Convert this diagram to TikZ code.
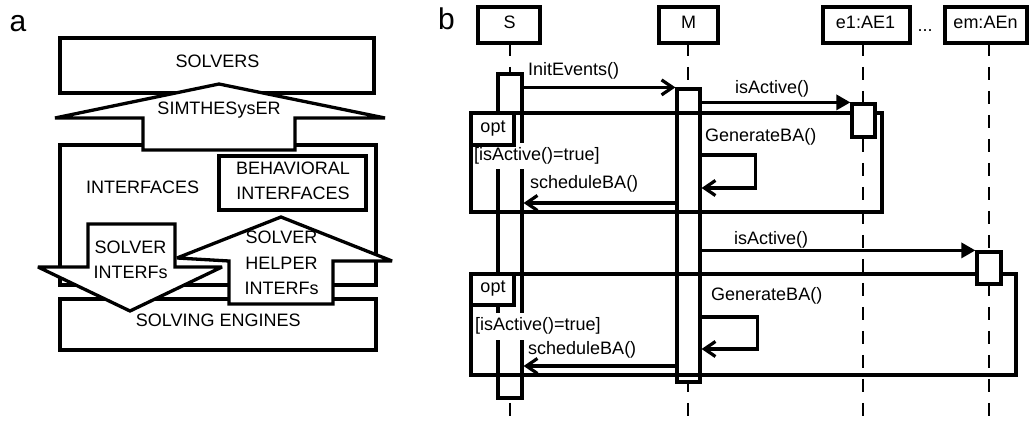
\documentclass[tikz,border=0pt]{standalone}
\usepackage{fontspec}
\setmainfont{Liberation Sans}
\usetikzlibrary{arrows.meta}
\begin{document}
\begin{tikzpicture}[x=1pt,y=-1pt,
  every node/.style={font=\fontsize{18}{21}\selectfont},
  abox/.style={draw, line width=3.3pt, fill=white, inner sep=0pt},
  shapeline/.style={draw, line width=3.3pt, fill=white, line join=miter, miter limit=3},
  txt/.style={inner sep=0pt, anchor=base},
  ltxt/.style={inner sep=0pt, anchor=base west},
  panel/.style={inner sep=0pt, anchor=base, font=\fontsize{30}{34}\selectfont},
  lifeline/.style={line width=1.9pt, dash pattern=on 13pt off 11pt},
  bar/.style={draw, line width=3.2pt, fill=white, inner sep=0pt},
  frame/.style={draw, line width=3.2pt, inner sep=0pt},
  tab/.style={draw, line width=3.2pt, fill=white, inner sep=0pt},
  guard/.style={fill=white, inner xsep=1pt, inner ysep=5pt, anchor=base west},
  msg/.style={line width=3.2pt, -{Straight Barb[length=11pt,width=15pt]}},
  call/.style={line width=3.2pt, -{Triangle[length=14pt,width=15pt]}},
]
\useasboundingbox[fill=white] (0,0) rectangle (1029,427);

% ---------------- panel a ----------------
\node[panel] (la) at (18,31.5) {a};
\node[abox, minimum width=314pt, minimum height=55pt] (solvers) at (217,65.5) {};
\node[abox, minimum width=316pt, minimum height=140pt] (interfaces) at (218,215) {};
\node[abox, minimum width=316pt, minimum height=51pt] (engines) at (218,324.5) {};
\node[abox, minimum width=147pt, minimum height=54pt] (behav) at (292.5,183) {};
\draw[shapeline] (55,118) -- (219,84) -- (385,118) -- (295,118) -- (295,150) -- (143,150) -- (143,118) -- cycle;
\draw[shapeline] (88,224) -- (175,224) -- (175,267) -- (222,267) -- (130,311) -- (38,267) -- (88,267) -- cycle;
\draw[shapeline] (281,217) -- (392,261) -- (333,261) -- (333,304) -- (229,304) -- (229,261) -- (177,258) -- cycle;
\node[txt] (tsolvers) at (217.5,67.5) {SOLVERS};
\node[txt] (tsim) at (219,114.5) {SIMTHESysER};
\node[txt] (tint) at (142.7,194) {INTERFACES};
\node[txt] (tbeh1) at (293,175) {BEHAVIORAL};
\node[txt] (tbeh2) at (293,200) {INTERFACES};
\node[txt] (tsi1) at (130.5,253.3) {SOLVER};
\node[txt] (tsi2) at (130.5,278.3) {INTERFs};
\node[txt] (tsh1) at (281.5,243.5) {SOLVER};
\node[txt] (tsh2) at (281.5,269.5) {HELPER};
\node[txt] (tsh3) at (281.5,295) {INTERFs};
\node[txt] (teng) at (218.3,326.7) {SOLVING ENGINES};

% ---------------- panel b ----------------
\node[panel] (lb) at (446.5,30) {b};
\coordinate (bot) at (0,427);
\coordinate (Stop) at (510,43);
\coordinate (Mtop) at (688,43);
\coordinate (E1top) at (863,43);
\coordinate (Emtop) at (989,43);
\draw[lifeline] (Stop) -- (Stop |- bot);
\draw[lifeline] (Mtop) -- (Mtop |- bot);
\draw[lifeline] (E1top) -- (E1top |- bot);
\draw[lifeline] (Emtop) -- (Emtop |- bot);

\node[abox, minimum width=62pt, minimum height=36pt] (S) at (509,25) {};
\node[abox, minimum width=59pt, minimum height=36pt] (M) at (688.5,25) {};
\node[abox, minimum width=87pt, minimum height=36pt] (E1) at (866.5,25) {};
\node[abox, minimum width=82pt, minimum height=36pt] (Em) at (986,25) {};
\node[txt] (tS) at (509.5,28.3) {S};
\node[txt] (tM) at (688.5,28.3) {M};
\node[txt] (tE1) at (865.5,28.3) {e1:AE1};
\node[txt] (tEm) at (985.5,28.3) {em:AEn};
\node[txt] (dots) at (925,32) {...};

\node[bar, minimum width=24pt, minimum height=324pt] (Sbar) at (510,236) {};
\node[bar, minimum width=23pt, minimum height=293pt] (Mbar) at (688.5,235.5) {};

\node[guard] (g1) at (473,160.7) {[isActive()=true]};
\node[guard] (g2) at (474,331) {[isActive()=true]};

\node[frame, minimum width=411pt, minimum height=99pt] (opt1) at (676.5,162.5) {};
\node[frame, minimum width=545pt, minimum height=101pt] (opt2) at (743.5,324.5) {};
\node[tab, minimum width=43pt, minimum height=32pt] (tab1) at (492.5,129) {};
\node[tab, minimum width=43pt, minimum height=31pt] (tab2) at (492.5,289.5) {};
\node[txt] (topt1) at (493,132.7) {opt};
\node[txt] (topt2) at (493,292.7) {opt};

\node[bar, minimum width=23pt, minimum height=33pt] (E1bar) at (863.5,120.5) {};
\node[bar, minimum width=24pt, minimum height=32pt] (Embar) at (989,268) {};

% messages
\draw[msg] (Sbar.east |- Mbar.north west) -- (Mbar.north west);
\node[ltxt] (tinit) at (528,76) {InitEvents()};

\draw[call] (Mbar.east |- E1bar.north west) -- (E1bar.north west);
\node[txt] (tia1) at (772,93.3) {isActive()};

\coordinate (l1a) at (0,155);
\coordinate (l1b) at (0,188);
\draw[msg] (Mbar.east |- l1a) -- ++(54,0) |- (Mbar.east |- l1b);
\node[ltxt] (tgen1) at (705,141.7) {GenerateBA()};

\coordinate (s1) at (0,203);
\draw[msg] (Mbar.west |- s1) -- (Sbar.east |- s1);
\node[ltxt] (tsch1) at (530,189) {scheduleBA()};

\draw[call] (Mbar.east |- Embar.north west) -- (Embar.north west);
\node[txt] (tia2) at (771,245) {isActive()};

\coordinate (l2a) at (0,317);
\coordinate (l2b) at (0,349);
\draw[msg] (Mbar.east |- l2a) -- ++(56,0) |- (Mbar.east |- l2b);
\node[ltxt] (tgen2) at (711,301) {GenerateBA()};

\coordinate (s2) at (0,366);
\draw[msg] (Mbar.west |- s2) -- (Sbar.east |- s2);
\node[ltxt] (tsch2) at (528,354.3) {scheduleBA()};
\end{tikzpicture}
\end{document}
